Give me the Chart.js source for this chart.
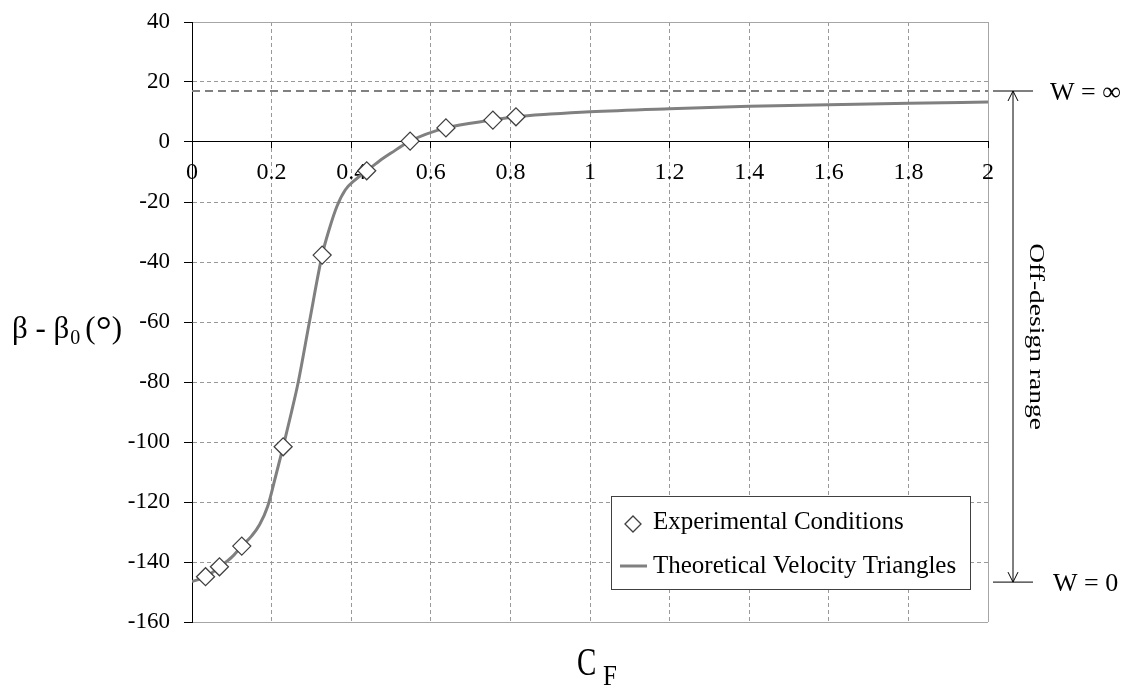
<!DOCTYPE html>
<html>
<head>
<meta charset="utf-8">
<script src="https://cdn.jsdelivr.net/npm/chart.js@4.4.1/dist/chart.umd.min.js"></script>
<style>
  html, body { margin: 0; padding: 0; background: #fff; }
  canvas { display: block; }
</style>
</head>
<body>
<canvas id="chart" width="1137" height="687"></canvas>
<script>
// experimental conditions (diamonds)
const expCF = [0.034, 0.069, 0.125, 0.229, 0.327, 0.439, 0.548, 0.638, 0.756, 0.814];
const expBeta = [-144.9, -141.6, -134.7, -101.6, -37.7, -9.6, 0.3, 4.7, 7.3, 8.4];

// theoretical velocity triangles curve
const theoCF = [0, 0.035, 0.07, 0.1, 0.125, 0.15, 0.17, 0.19, 0.21, 0.229, 0.25, 0.267, 0.295, 0.327, 0.345, 0.364, 0.385, 0.41, 0.439, 0.47, 0.5, 0.548, 0.638, 0.756, 0.814, 0.9, 1.0, 1.2, 1.4, 1.6, 1.8, 2.0];
const theoBeta = [-146.5, -144.9, -141.6, -138.4, -134.7, -131.3, -127.5, -121.5, -111.5, -101.6, -90, -80, -60, -37.7, -29, -21.5, -16, -12.6, -9.6, -6.4, -3.7, 0.3, 4.7, 7.3, 8.4, 9.3, 10.1, 11.1, 11.9, 12.4, 12.9, 13.3];

// off-design limits
const wInfinity = 17;
const wZero = -146.7;
const limitCF = [0, 2];

const xTicks = [0, 0.2, 0.4, 0.6, 0.8, 1, 1.2, 1.4, 1.6, 1.8, 2];
const yTicks = [40, 20, 0, -20, -40, -60, -80, -100, -120, -140, -160];

const FONT = '"Liberation Serif", "Times New Roman", serif';

const toPoints = (xs, ys) => xs.map((v, i) => ({x: v, y: ys[i]}));

const gridColor = (value, lo, hi) => {
  if (value === 0 && lo !== 0) return '#000';
  if (value === lo || value === hi) return '#a6a6a6';
  return '#999';
};

const annotations = {
  id: 'annotations',
  afterDraw(chart) {
    const {ctx, chartArea: area, scales: {x, y}} = chart;
    ctx.save();
    ctx.fillStyle = '#000';
    ctx.textBaseline = 'alphabetic';
    ctx.textAlign = 'left';

    // y axis title: β - β0 (°)
    let px = 12;
    const base = 338;
    ctx.font = '31px ' + FONT;
    ctx.fillText('β - β', px, base);
    px += ctx.measureText('β - β').width + 1;
    ctx.font = '20px ' + FONT;
    ctx.fillText('0', px, base + 6);
    px += ctx.measureText('0').width + 5;
    ctx.font = '31px ' + FONT;
    ctx.fillText('(', px, base);
    px += ctx.measureText('(').width;
    ctx.font = '40px ' + FONT;
    ctx.fillText('°', px, base + 6);
    px += ctx.measureText('°').width;
    ctx.font = '31px ' + FONT;
    ctx.fillText(')', px, base);

    // x axis title: C_F
    const cx = (area.left + area.right) / 2;
    ctx.save();
    ctx.translate(cx - 13, area.bottom + 53);
    ctx.scale(1, 1.35);
    ctx.font = '29px ' + FONT;
    ctx.fillText('C', 0, 0);
    ctx.restore();
    ctx.save();
    ctx.translate(cx + 13, area.bottom + 63);
    ctx.scale(1, 1.2);
    ctx.font = '25px ' + FONT;
    ctx.fillText('F', 0, 0);
    ctx.restore();

    // off-design range markers on the right
    const yTop = y.getPixelForValue(wInfinity);
    const yBot = y.getPixelForValue(wZero);
    const ax = area.right + 25;
    ctx.strokeStyle = '#000';
    ctx.lineWidth = 1;
    ctx.beginPath();
    ctx.moveTo(area.right + 5, yTop); ctx.lineTo(area.right + 45, yTop);
    ctx.moveTo(area.right + 5, yBot); ctx.lineTo(area.right + 45, yBot);
    ctx.moveTo(ax, yTop); ctx.lineTo(ax, yBot);
    ctx.moveTo(ax - 5, yTop + 10); ctx.lineTo(ax, yTop); ctx.lineTo(ax + 5, yTop + 10);
    ctx.moveTo(ax - 5, yBot - 10); ctx.lineTo(ax, yBot); ctx.lineTo(ax + 5, yBot - 10);
    ctx.stroke();

    ctx.font = '26px ' + FONT;
    ctx.textBaseline = 'middle';
    ctx.fillText('W = ∞', area.right + 62, yTop + 2);
    ctx.fillText('W = 0', area.right + 65, yBot + 2);

    ctx.save();
    ctx.translate(area.right + 48, (yTop + yBot) / 2);
    ctx.rotate(Math.PI / 2);
    ctx.scale(1.25, 1);
    ctx.textAlign = 'center';
    ctx.font = '22px ' + FONT;
    ctx.fillText('Off-design range', 0, 0);
    ctx.restore();

    // legend box
    const [expDs, theoDs] = chart.data.datasets;
    const lx = area.right - 377, ly = area.bottom - 126;
    ctx.fillStyle = '#fff';
    ctx.fillRect(lx, ly, 359, 93);
    ctx.strokeStyle = '#404040';
    ctx.lineWidth = 1;
    ctx.strokeRect(lx + 0.5, ly + 0.5, 359, 93);

    ctx.beginPath();
    const dx = lx + 22, dy = ly + 28, r = 8;
    ctx.moveTo(dx - r, dy); ctx.lineTo(dx, dy - r); ctx.lineTo(dx + r, dy); ctx.lineTo(dx, dy + r); ctx.closePath();
    ctx.fillStyle = expDs.backgroundColor;
    ctx.fill();
    ctx.strokeStyle = expDs.borderColor;
    ctx.lineWidth = expDs.borderWidth;
    ctx.stroke();

    ctx.beginPath();
    ctx.moveTo(lx + 9, ly + 70); ctx.lineTo(lx + 36, ly + 70);
    ctx.strokeStyle = theoDs.borderColor;
    ctx.lineWidth = theoDs.borderWidth;
    ctx.stroke();

    ctx.fillStyle = '#000';
    ctx.font = '25px ' + FONT;
    ctx.textBaseline = 'alphabetic';
    ctx.fillText(expDs.label, lx + 42, ly + 33);
    ctx.fillText(theoDs.label, lx + 42, ly + 77);
    ctx.restore();
  }
};

new Chart(document.getElementById('chart'), {
  type: 'line',
  data: {
    datasets: [
      {
        label: 'Experimental Conditions',
        data: toPoints(expCF, expBeta),
        showLine: false,
        pointStyle: 'rectRot',
        pointRadius: 9,
        backgroundColor: '#fff',
        borderColor: '#404040',
        borderWidth: 1.3
      },
      {
        label: 'Theoretical Velocity Triangles',
        data: toPoints(theoCF, theoBeta),
        borderColor: '#808080',
        borderWidth: 3,
        pointRadius: 0,
        cubicInterpolationMode: 'monotone'
      },
      {
        label: 'W = ∞',
        data: toPoints(limitCF, [wInfinity, wInfinity]),
        borderColor: '#808080',
        borderWidth: 2,
        borderDash: [8, 5],
        pointRadius: 0
      }
    ]
  },
  options: {
    responsive: false,
    animation: false,
    layout: {padding: {left: 0, right: 149, top: 22, bottom: 65}},
    plugins: {legend: {display: false}, tooltip: {enabled: false}},
    scales: {
      x: {
        type: 'linear',
        position: {y: 0},
        min: 0,
        max: 2,
        afterBuildTicks: (scale) => { scale.ticks = xTicks.map(v => ({value: v})); },
        ticks: {
          color: '#000',
          padding: 10,
          font: {family: FONT, size: 24},
          maxRotation: 0,
          callback: (v) => String(v)
        },
        grid: {
          color: (c) => gridColor(c.tick.value, 0, 2),
          tickColor: '#000',
          tickLength: 6,
          lineWidth: 1
        },
        border: {
          color: '#000',
          width: 1,
          dash: (c) => (c.type === 'tick' && c.tick.value !== 0 && c.tick.value !== 2) ? [4, 3] : []
        }
      },
      y: {
        type: 'linear',
        position: 'left',
        min: -160,
        max: 40,
        afterBuildTicks: (scale) => { scale.ticks = yTicks.map(v => ({value: v})); },
        afterFit: (scale) => {
          scale.width = 192;
          scale.paddingTop = 0;
          scale.paddingBottom = 0;
        },
        ticks: {
          color: '#000',
          padding: 14,
          font: {family: FONT, size: 23},
          callback: (v) => String(v)
        },
        grid: {
          color: (c) => gridColor(c.tick.value, -160, 40),
          tickColor: '#000',
          tickLength: 8,
          lineWidth: 1
        },
        border: {
          color: '#000',
          width: 1,
          dash: (c) => (c.type === 'tick' && ![0, 40, -160].includes(c.tick.value)) ? [4, 3] : []
        }
      }
    }
  },
  plugins: [annotations]
});
</script>
</body>
</html>
